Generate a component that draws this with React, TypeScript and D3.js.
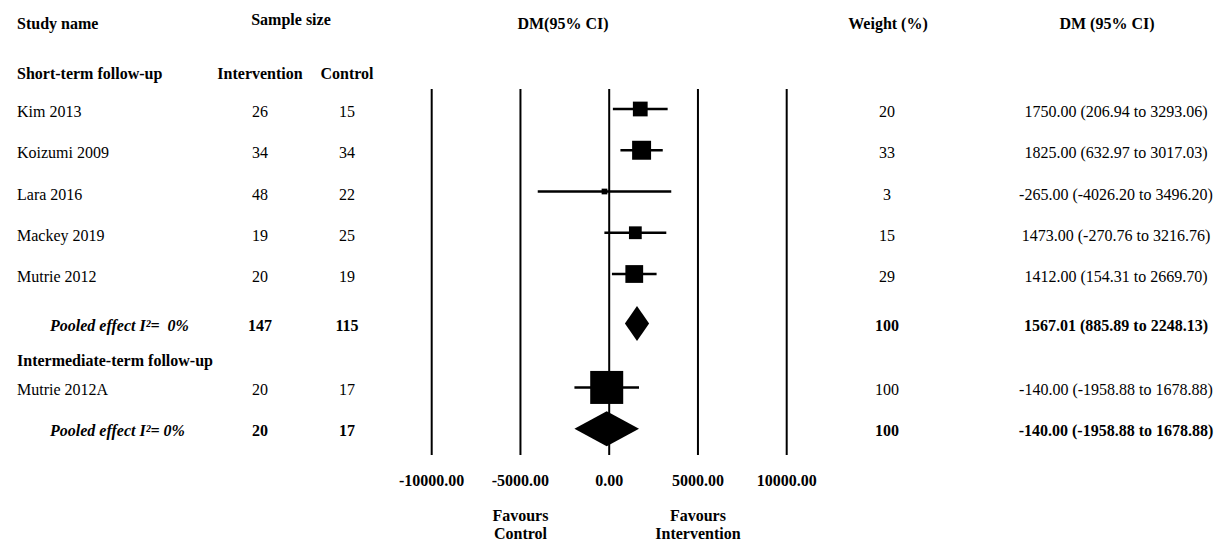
import React from 'react';
import * as d3 from 'd3';

// study rows
const studyNames = ['Kim 2013', 'Koizumi 2009', 'Lara 2016', 'Mackey 2019', 'Mutrie 2012', 'Mutrie 2012A'];
const nIntervention = [26, 34, 48, 19, 20, 20];
const nControl = [15, 34, 22, 25, 19, 17];
const dmValues = [1750.0, 1825.0, -265.0, 1473.0, 1412.0, -140.0];
const ciLower = [206.94, 632.97, -4026.2, -270.76, 154.31, -1958.88];
const ciUpper = [3293.06, 3017.03, 3496.2, 3216.76, 2669.7, 1678.88];
const weights = [20, 33, 3, 15, 29, 100];

// pooled rows (one per follow-up group)
const groupNames = ['Short-term follow-up', 'Intermediate-term follow-up'];
const pooledLabels = ['Pooled effect I\u00B2=  0%', 'Pooled effect I\u00B2= 0%'];
const pooledNInt = [147, 20];
const pooledNCtrl = [115, 17];
const pooledDm = [1567.01, -140.0];
const pooledLower = [885.89, -1958.88];
const pooledUpper = [2248.13, 1678.88];
const pooledWeight = [100, 100];

const axisTicks = [-10000, -5000, 0, 5000, 10000];

const W = 1225;
const H = 542;
const FONT = '"Liberation Serif", "Times New Roman", serif';

const fmt = (v: number) => v.toFixed(2);
const ciText = (m: number, lo: number, hi: number) => `${fmt(m)} (${fmt(lo)} to ${fmt(hi)})`;

export default function App() {
  const x = d3.scaleLinear().domain([-10000, 10000]).range([431.7, 786.7]);
  // row slots -> pixel y (rows are ~41px apart)
  const y = d3.scaleLinear().domain([1, 2]).range([109, 150.25]);
  const boxSize = d3.scaleSqrt().domain([0, 100]).range([0, 33]);

  // layout slots for each row
  const studySlots = [1, 2, 3, 4, 5, 7.75];
  const pooledSlots = [6.2, 8.75];
  const groupSlots = [0.15, 7.12];
  const textOff = 8;

  const colName = 17;
  const colPooled = 50;
  const colInt = 260;
  const colCtrl = 347;
  const colWeight = 887;
  const colCi = 1116;

  const lineTop = 89;
  const lineBottom = 455;
  const diamondH = 35;

  const diamond = (m: number, lo: number, hi: number, cy: number) =>
    d3.line()([
      [x(lo), cy],
      [x(m), cy - diamondH / 2],
      [x(hi), cy],
      [x(m), cy + diamondH / 2],
    ]) + 'Z';

  return (
    <div style={{ position: 'absolute', left: 0, top: 0, background: '#fff' }}>
      <svg width={W} height={H} style={{ display: 'block', fontFamily: FONT, fontSize: 16 }}>
        <rect width={W} height={H} fill="#fff" />

        {/* column headers */}
        <g fontWeight="bold" fill="#000">
          <text x={colName} y={29}>Study name</text>
          <text x={291} y={25} textAnchor="middle">Sample size</text>
          <text x={563} y={29} textAnchor="middle">DM(95% CI)</text>
          <text x={888} y={29} textAnchor="middle">Weight (%)</text>
          <text x={1107} y={29} textAnchor="middle">DM (95% CI)</text>
          <text x={colInt} y={y(groupSlots[0]) + 5} textAnchor="middle">Intervention</text>
          <text x={colCtrl} y={y(groupSlots[0]) + 5} textAnchor="middle">Control</text>
          {groupNames.map((g, i) => (
            <text key={g} x={colName} y={y(groupSlots[i]) + 5}>{g}</text>
          ))}
        </g>

        {/* vertical reference lines */}
        {axisTicks.map((t) => (
          <line key={t} x1={x(t)} x2={x(t)} y1={lineTop} y2={lineBottom} stroke="#000" strokeWidth={2} />
        ))}

        {/* axis labels */}
        <g fontWeight="bold" textAnchor="middle">
          {axisTicks.map((t) => (
            <text key={t} x={x(t)} y={486}>{fmt(t)}</text>
          ))}
          <text x={x(-5000)} y={521}>Favours</text>
          <text x={x(-5000)} y={539}>Control</text>
          <text x={x(5000)} y={521}>Favours</text>
          <text x={x(5000)} y={539}>Intervention</text>
        </g>

        {/* studies */}
        {studyNames.map((s, i) => {
          const cy = y(studySlots[i]);
          const b = boxSize(weights[i]);
          return (
            <g key={s}>
              <text x={colName} y={cy + textOff}>{s}</text>
              <text x={colInt} y={cy + textOff} textAnchor="middle">{nIntervention[i]}</text>
              <text x={colCtrl} y={cy + textOff} textAnchor="middle">{nControl[i]}</text>
              <text x={colWeight} y={cy + textOff} textAnchor="middle">{weights[i]}</text>
              <text x={colCi} y={cy + textOff} textAnchor="middle">{ciText(dmValues[i], ciLower[i], ciUpper[i])}</text>
              <line x1={x(ciLower[i])} x2={x(ciUpper[i])} y1={cy} y2={cy} stroke="#000" strokeWidth={2.5} />
              <rect x={x(dmValues[i]) - b / 2} y={cy - b / 2} width={b} height={b} fill="#000" />
            </g>
          );
        })}

        {/* pooled effects */}
        {pooledLabels.map((p, i) => {
          const cy = y(pooledSlots[i]);
          return (
            <g key={p} fontWeight="bold">
              <text x={colPooled} y={cy + textOff - 1} fontStyle="italic" style={{ whiteSpace: 'pre' }}>{p}</text>
              <text x={colInt} y={cy + textOff - 1} textAnchor="middle">{pooledNInt[i]}</text>
              <text x={colCtrl} y={cy + textOff - 1} textAnchor="middle">{pooledNCtrl[i]}</text>
              <text x={colWeight} y={cy + textOff - 1} textAnchor="middle">{pooledWeight[i]}</text>
              <text x={colCi} y={cy + textOff - 1} textAnchor="middle">{ciText(pooledDm[i], pooledLower[i], pooledUpper[i])}</text>
              <path d={diamond(pooledDm[i], pooledLower[i], pooledUpper[i], cy)} fill="#000" />
            </g>
          );
        })}
      </svg>
    </div>
  );
}
